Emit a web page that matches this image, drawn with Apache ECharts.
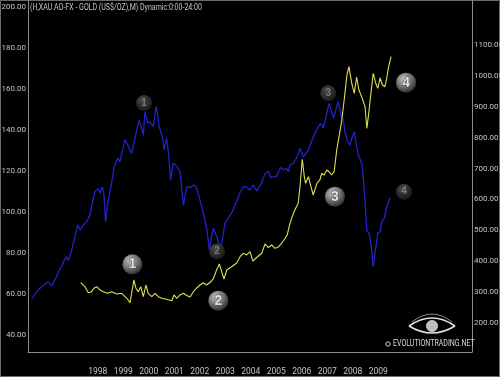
<!DOCTYPE html>
<html><head><meta charset="utf-8">
<script src="https://cdn.jsdelivr.net/npm/echarts@6/dist/echarts.min.js"></script>
<style>html,body{margin:0;padding:0;background:#000;}#c{width:500px;height:377px;}</style>
</head><body><div id="c"></div>
<script>
// ---- data ----
const titleText = '(H,XAU AO-FX - GOLD (US$/OZ),M) Dynamic:0:00-24:00';
const yearTicks = [1998,1999,2000,2001,2002,2003,2004,2005,2006,2007,2008,2009];
const leftTicks = [40,60,80,100,120,140,160,180,200];
const rightTicks = [200,300,400,500,600,700,800,900,1000,1100];

// blue series (left axis): [decimal year, value]
const blueSeries = [[1995.41,57.4],[1995.61,61.1],[1995.80,63.5],[1996.06,66.0],[1996.20,63.9],[1996.39,68.4],[1996.49,71.6],[1996.59,73.3],[1996.69,76.5],[1996.78,78.1],[1996.85,76.2],[1996.98,81.4],[1997.11,87.9],[1997.22,93.6],[1997.31,91.1],[1997.44,93.6],[1997.57,95.2],[1997.70,98.4],[1997.76,102.5],[1997.89,109.8],[1998.02,111.4],[1998.09,109.0],[1998.18,112.2],[1998.24,109.0],[1998.31,95.2],[1998.39,104.1],[1998.52,112.2],[1998.65,122.0],[1998.78,126.1],[1998.87,124.4],[1998.96,129.3],[1999.07,135.0],[1999.18,132.5],[1999.23,130.9],[1999.33,128.5],[1999.46,135.8],[1999.62,144.7],[1999.72,140.7],[1999.79,137.4],[1999.85,148.8],[1999.96,143.1],[2000.05,143.9],[2000.18,141.5],[2000.29,151.2],[2000.34,148.0],[2000.41,141.5],[2000.55,135.8],[2000.60,130.1],[2000.70,135.8],[2000.77,129.1],[2000.86,115.5],[2000.96,123.8],[2001.10,122.3],[2001.23,119.4],[2001.36,103.3],[2001.49,112.2],[2001.63,111.8],[2001.78,113.1],[2001.88,111.6],[2002.01,105.7],[2002.14,99.3],[2002.27,92.1],[2002.38,81.4],[2002.46,87.9],[2002.53,92.1],[2002.66,87.9],[2002.77,83.8],[2002.86,84.3],[2002.99,94.5],[2003.12,96.8],[2003.29,100.4],[2003.45,105.3],[2003.58,109.4],[2003.71,112.2],[2003.84,112.1],[2003.97,110.6],[2004.10,113.1],[2004.23,110.1],[2004.40,113.5],[2004.56,118.4],[2004.69,119.9],[2004.78,116.7],[2004.91,117.0],[2005.02,117.4],[2005.17,121.6],[2005.30,120.4],[2005.41,121.2],[2005.47,119.5],[2005.54,122.8],[2005.67,123.6],[2005.80,126.2],[2005.93,130.9],[2006.06,126.8],[2006.26,130.1],[2006.45,136.6],[2006.65,141.5],[2006.75,143.1],[2006.84,140.7],[2006.98,148.0],[2007.07,152.8],[2007.17,148.8],[2007.24,145.5],[2007.37,151.2],[2007.43,153.6],[2007.54,147.1],[2007.63,144.7],[2007.69,139.0],[2007.80,134.1],[2007.89,132.5],[2007.96,135.8],[2008.06,139.0],[2008.15,131.7],[2008.22,127.7],[2008.28,127.7],[2008.37,122.8],[2008.48,105.7],[2008.55,91.1],[2008.64,89.5],[2008.71,84.7],[2008.80,73.3],[2008.87,79.8],[2008.98,89.5],[2009.07,90.3],[2009.13,95.2],[2009.24,96.8],[2009.33,102.5],[2009.46,107.0]];

// yellow series (right axis, gold US$/oz): [decimal year, value]
const goldSeries = [[1997.33,330.5],[1997.50,317.5],[1997.63,298.1],[1997.76,301.4],[1997.85,312.4],[1997.96,317.5],[1998.09,306.9],[1998.22,301.4],[1998.38,296.2],[1998.55,301.4],[1998.74,293.9],[1998.94,296.2],[1999.14,280.0],[1999.27,265.7],[1999.33,296.2],[1999.42,339.2],[1999.50,312.4],[1999.59,301.4],[1999.69,317.5],[1999.79,285.2],[1999.89,323.0],[1999.98,296.2],[2000.12,285.2],[2000.25,296.2],[2000.38,285.2],[2000.51,280.0],[2000.70,276.7],[2000.90,272.2],[2000.99,290.7],[2001.10,280.0],[2001.23,290.7],[2001.36,296.2],[2001.49,289.1],[2001.62,284.2],[2001.75,301.4],[2001.88,313.3],[2002.01,323.0],[2002.14,330.5],[2002.27,323.0],[2002.40,331.1],[2002.53,342.5],[2002.66,371.6],[2002.77,391.0],[2002.86,366.1],[2002.95,342.5],[2003.06,371.6],[2003.25,382.3],[2003.45,394.3],[2003.58,414.7],[2003.71,425.7],[2003.84,420.2],[2003.97,430.9],[2004.08,400.7],[2004.23,412.1],[2004.43,425.7],[2004.56,455.8],[2004.69,444.4],[2004.82,452.5],[2004.95,441.9],[2005.08,446.1],[2005.21,458.0],[2005.34,473.6],[2005.43,484.9],[2005.51,514.0],[2005.60,539.0],[2005.73,565.8],[2005.86,587.5],[2005.93,641.3],[2006.02,730.0],[2006.10,673.6],[2006.15,652.3],[2006.26,673.6],[2006.36,641.3],[2006.45,614.4],[2006.59,652.3],[2006.71,663.0],[2006.78,684.7],[2006.88,679.2],[2006.98,695.3],[2007.07,689.8],[2007.17,679.2],[2007.27,689.8],[2007.37,760.1],[2007.46,803.1],[2007.56,851.7],[2007.67,927.5],[2007.77,1002.9],[2007.85,1029.8],[2007.96,976.0],[2008.06,943.6],[2008.15,996.4],[2008.24,954.3],[2008.37,927.5],[2008.48,900.3],[2008.55,830.3],[2008.61,867.9],[2008.71,943.6],[2008.80,1008.4],[2008.90,976.0],[2008.98,959.8],[2009.07,993.2],[2009.16,970.5],[2009.26,965.0],[2009.33,992.2],[2009.39,1024.6],[2009.50,1062.1]];

// numbered annotation bubbles
const blueMarkLabels = ['1','2','3','4'];
const blueMarkYears  = [1999.82, 2002.68, 2007.04, 2010.01];
const blueMarkValues = [153.0, 80.7, 157.7, 109.8];
const goldMarkLabels = ['1','2','3','4'];
const goldMarkYears  = [1999.36, 2002.73, 2007.30, 2010.09];
const goldMarkValues = [390, 272.2, 608.9, 978];

// ---- chart ----
const FONT = 'Roboto, "Liberation Sans", sans-serif';
const TXT = '#c4c4c4';
const AX = '#8c8c8c';

const chart = echarts.init(document.getElementById('c'), null, {renderer:'canvas'});

const zip = (xs, ys, ls) => xs.map((x,i) => ({value:[x, ys[i]], name: ls[i]}));

const brightGrad = {type:'radial', x:0.38, y:0.32, r:0.75, colorStops:[
  {offset:0, color:'#f4f4f4'},{offset:0.45, color:'#9c9c9c'},{offset:1, color:'#2e2e2e'}]};
const dimGrad = {type:'radial', x:0.38, y:0.32, r:0.75, colorStops:[
  {offset:0, color:'#5a5a5a'},{offset:0.6, color:'#333333'},{offset:1, color:'#1a1a1a'}]};

chart.setOption({
  animation:false,
  backgroundColor:'#000',
  grid:{left:28, right:28, top:0, bottom:25, containLabel:false, outerBoundsMode:'none'},
  xAxis:{
    type:'value', min:1995.268, max:2012.673,
    axisLine:{show:true, lineStyle:{color:AX, width:1}},
    axisTick:{show:false},
    splitLine:{show:false},
    axisLabel:{customValues:yearTicks, formatter:v=>String(Math.round(v)),
      color:TXT, fontFamily:FONT, fontSize:8.5, margin:15}
  },
  yAxis:[{
    type:'value', min:31.7, max:203.17, position:'left',
    axisLine:{show:true, lineStyle:{color:AX, width:1}},
    axisTick:{show:false}, splitLine:{show:false},
    axisLabel:{customValues:leftTicks, formatter:v=>v.toFixed(2),
      color:TXT, fontFamily:FONT, fontSize:8, margin:2}
  },{
    type:'value', min:106.1, max:1245.7, position:'right',
    axisLine:{show:true, lineStyle:{color:AX, width:1}},
    axisTick:{show:false}, splitLine:{show:false},
    axisLabel:{customValues:rightTicks, formatter:v=>v.toFixed(2),
      color:TXT, fontFamily:FONT, fontSize:8, margin:2}
  }],
  series:[{
    type:'line', yAxisIndex:0, data:blueSeries, showSymbol:false,
    lineStyle:{color:'#2222cc', width:1.3}, z:3
  },{
    type:'line', yAxisIndex:1, data:goldSeries, showSymbol:false,
    lineStyle:{color:'#dede50', width:1.1}, z:4
  },{
    type:'scatter', yAxisIndex:0, data:zip(blueMarkYears, blueMarkValues, blueMarkLabels),
    symbol:'circle', symbolSize:16, itemStyle:{color:dimGrad}, z:5,
    label:{show:true, position:'inside', formatter:p=>p.name, color:'#8a8a8a',
      fontSize:10, fontWeight:'bold', fontFamily:'"Liberation Sans",Arial,sans-serif'}
  },{
    type:'scatter', yAxisIndex:1, data:zip(goldMarkYears, goldMarkValues, goldMarkLabels),
    symbol:'circle', symbolSize:20, itemStyle:{color:brightGrad}, z:6,
    label:{show:true, position:'inside', formatter:p=>p.name, color:'#ffffff',
      fontSize:14, fontWeight:'bold', fontFamily:'"Liberation Sans",Arial,sans-serif',
      textBorderColor:'#333', textBorderWidth:1}
  }],
  graphic:[
    {type:'rect', shape:{x:0.5, y:0.5, width:499, height:376}, style:{fill:'none', stroke:'#6a6a6a', lineWidth:1}, silent:true, z:0},
    {type:'text', x:30, y:3, scaleX:0.74, style:{text:titleText, fill:TXT, font:'9.5px '+FONT}, z:10},
    {type:'bezierCurve', shape:{x1:409, y1:326, x2:455, y2:326, cpx1:432, cpy1:310}, style:{fill:'none', stroke:'#dcdcdc', lineWidth:1.6}, z:10},
    {type:'bezierCurve', shape:{x1:409, y1:326, x2:455, y2:326, cpx1:432, cpy1:340}, style:{fill:'none', stroke:'#dcdcdc', lineWidth:1.6}, z:10},
    {type:'bezierCurve', shape:{x1:412, y1:322, x2:452, y2:322, cpx1:432, cpy1:306}, style:{fill:'none', stroke:'#8a8a8a', lineWidth:1}, z:10},
    {type:'circle', shape:{cx:432, cy:326, r:5.5}, style:{fill:'#bdbdbd', stroke:'#eee', lineWidth:0.8}, z:10},
    {type:'circle', shape:{cx:388, cy:344, r:2.2}, style:{fill:'none', stroke:'#cfcfcf', lineWidth:1}, z:10},
    {type:'text', x:393, y:339, scaleX:0.78, style:{text:'EVOLUTIONTRADING.NET', fill:'#d8d8d8', font:'9px '+FONT}, z:10}
  ]
});
</script></body></html>
